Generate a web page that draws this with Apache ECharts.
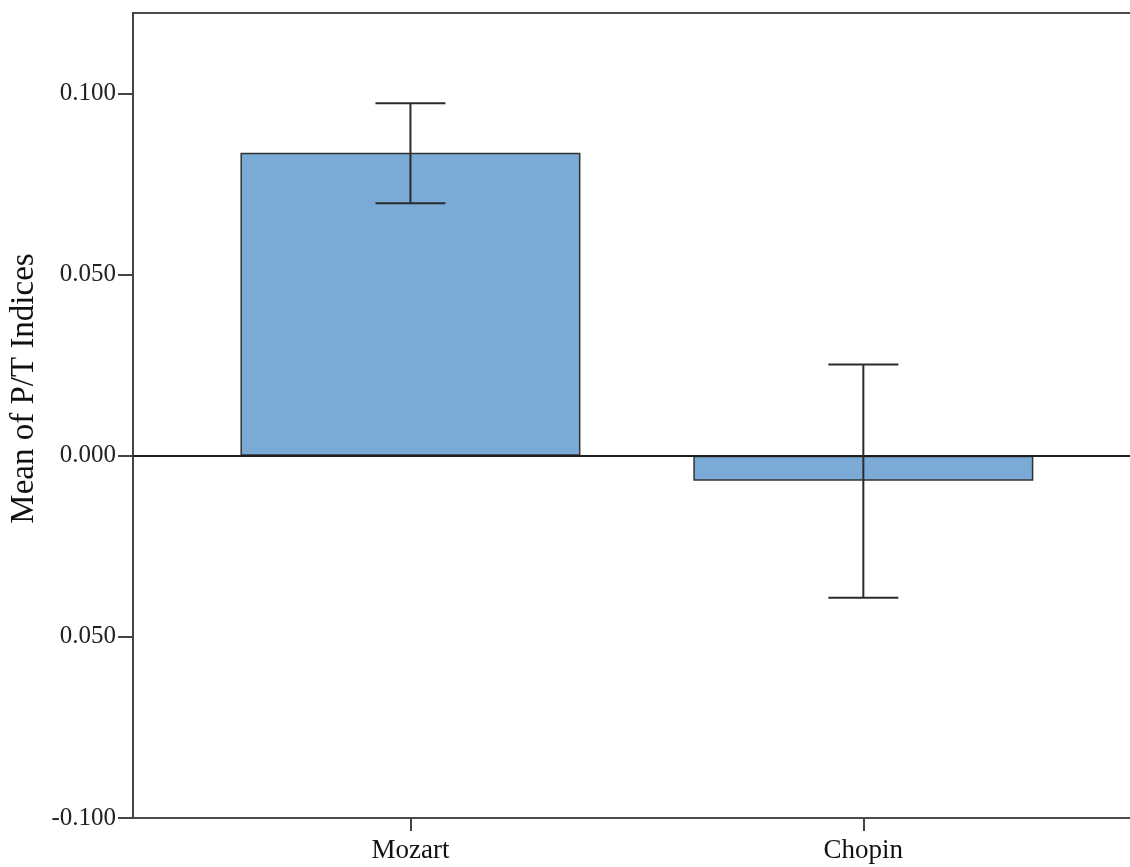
<!DOCTYPE html>
<html>
<head>
<meta charset="utf-8">
<title>Mean of P/T Indices</title>
<script src="https://cdn.jsdelivr.net/npm/echarts@6/dist/echarts.min.js"></script>
<style>
  html, body { margin: 0; padding: 0; background: #ffffff; overflow: hidden; }
  /* the plotting frame runs slightly past the right edge of the page */
  #chart { width: 1160px; height: 867px; }
</style>
</head>
<body>
<div id="chart"></div>
<script>
// Composers compared
const categories = ['Mozart', 'Chopin'];
// Mean P/T index per composer
const means = [0.0836, -0.0069];
// Error bar limits
const ciUpper = [0.0973, 0.0252];
const ciLower = [0.0697, -0.0392];
// Value axis ticks and their printed labels
const yTickValues = [-0.1, -0.05, 0, 0.05, 0.1];
const yTickLabels = ['-0.100', '0.050', '0.000', '0.050', '0.100'];

const serif = '"Liberation Serif", "DejaVu Serif", "Times New Roman", serif';
const ink = '#2b2b2b';
const catIndex = categories.map((c, i) => i);

const chart = echarts.init(document.getElementById('chart'), null, { renderer: 'canvas' });

const option = {
  backgroundColor: '#ffffff',
  animation: false,
  grid: [
    { left: 133, top: 13, bottom: 49, width: 1011, show: true, outerBoundsMode: 'none',
      borderColor: '#4a4a4a', borderWidth: 2, backgroundColor: '#ffffff' }
  ],
  xAxis: [
    // positions the bars (category index along x)
    { type: 'value', min: -0.6126, max: 1.6197, show: false },
    // category ticks and names under each bar
    { type: 'value', min: -0.6126, max: 1.6197, position: 'bottom',
      axisLine: { show: false },
      axisTick: { show: true, length: 13, customValues: catIndex,
        lineStyle: { color: '#444', width: 2 } },
      axisLabel: { customValues: catIndex, fontFamily: serif, fontSize: 27, color: '#111', margin: 19,
        formatter: v => categories[Math.round(v)] },
      splitLine: { show: false } }
  ],
  yAxis: [
    { type: 'value', min: -0.1, max: 0.1222,
      name: 'Mean of P/T Indices', nameLocation: 'middle', nameGap: 86,
      nameTextStyle: { fontFamily: serif, fontSize: 33, color: '#111', padding: [0, 0, 0, 54] },
      axisLine: { show: true, onZero: false, lineStyle: { color: '#444', width: 2 } },
      axisTick: { show: true, length: 15, customValues: yTickValues,
        lineStyle: { color: '#444', width: 2 } },
      axisLabel: { customValues: yTickValues, fontFamily: serif, fontSize: 25,
        color: '#222', margin: 17,
        formatter: function (v) {
          const i = yTickValues.findIndex(t => Math.abs(t - v) < 1e-9);
          return i >= 0 ? yTickLabels[i] : '';
        } },
      splitLine: { show: false } }
  ],
  series: [
    {
      type: 'bar',
      xAxisIndex: 0, yAxisIndex: 0,
      barWidth: 340,
      data: categories.map((c, i) => [i, means[i]]),
      itemStyle: { color: '#7aaad5', borderColor: '#333333', borderWidth: 1.5 },
      markLine: {
        silent: true, symbol: 'none', label: { show: false },
        lineStyle: { color: '#1e1e1e', width: 2, type: 'solid' },
        data: [{ yAxis: 0 }]
      },
      z: 2
    },
    {
      type: 'custom',
      xAxisIndex: 0, yAxisIndex: 0,
      data: categories.map((c, i) => [i, ciLower[i], ciUpper[i]]),
      encode: { x: 0, y: [1, 2] },
      z: 5,
      renderItem: function (params, api) {
        const x = api.value(0);
        const lo = api.coord([x, api.value(1)]);
        const hi = api.coord([x, api.value(2)]);
        const half = 35;
        const style = { stroke: ink, lineWidth: 2 };
        return {
          type: 'group',
          children: [
            { type: 'line', shape: { x1: hi[0], y1: hi[1], x2: lo[0], y2: lo[1] }, style: style },
            { type: 'line', shape: { x1: hi[0] - half, y1: hi[1], x2: hi[0] + half, y2: hi[1] }, style: style },
            { type: 'line', shape: { x1: lo[0] - half, y1: lo[1], x2: lo[0] + half, y2: lo[1] }, style: style }
          ]
        };
      }
    }
  ]
};

chart.setOption(option);
</script>
</body>
</html>
